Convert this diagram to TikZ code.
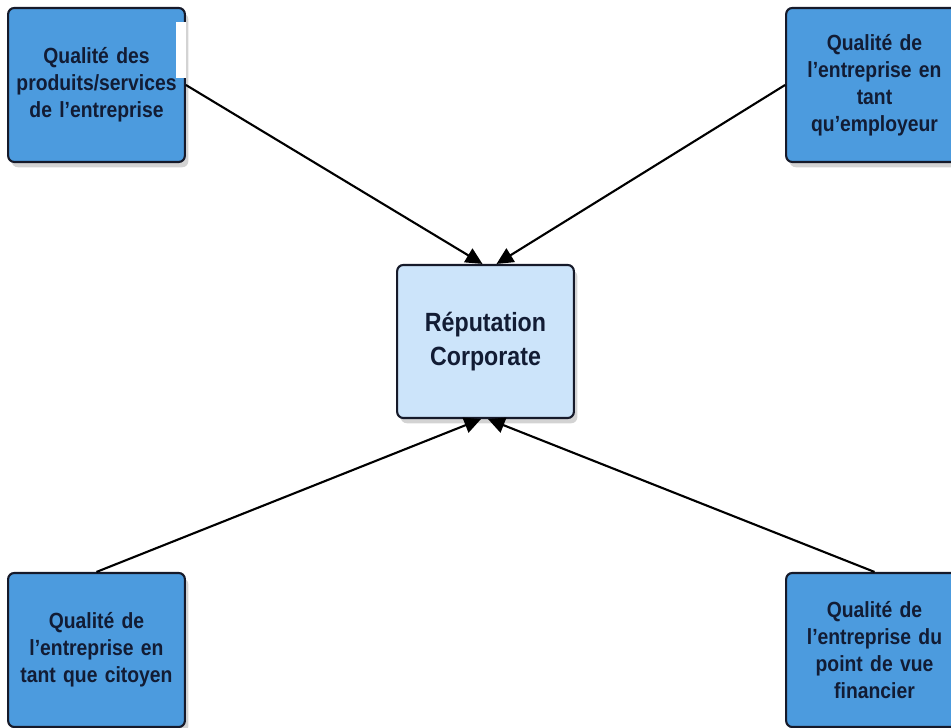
\documentclass[tikz,border=0pt]{standalone}
\usepackage{fontspec}
\setmainfont[FakeStretch=0.88]{Liberation Sans}
\usepackage{tikz}
\usetikzlibrary{positioning,calc}
\usetikzlibrary{arrows.meta}
\usetikzlibrary{shadows}

\definecolor{outerblue}{RGB}{76,155,222}
\definecolor{innerblue}{RGB}{204,228,250}
\definecolor{borderdark}{RGB}{22,26,42}
\definecolor{textdark}{RGB}{18,28,52}

\tikzset{
    factor/.style={draw=borderdark, line width=1.2pt, fill=outerblue, rounded corners=3.5pt,
        minimum width=3.46cm, minimum height=3.08cm, text width=3.3cm, align=center,
        font=\bfseries\fontsize{12.5}{15.3}\selectfont, text=textdark,
        drop shadow={shadow xshift=2pt, shadow yshift=-3pt, opacity=0.35}},
    core/.style={factor, fill=innerblue, minimum height=3.06cm,
        font=\bfseries\fontsize{15}{19.3}\selectfont},
    link/.style={line width=1.2pt, -{Triangle[length=9.5pt,width=9pt]}}
}

\begin{document}
\begin{tikzpicture}
    % Frame of the picture
    \useasboundingbox (0,0) rectangle (19.02,14.56);

    % The central box
    \node[core] (rep) at (9.71,7.73) {R\'eputation\\Corporate};

    % The four boxes around it
    \node[factor] (produits) at (1.93,12.86) {Qualit\'e des\\produits/services\\de l'entreprise};
    \node[factor] (employeur) at (17.49,12.86) {Qualit\'e de\\l'entreprise en\\tant\\qu'employeur};
    \node[factor] (citoyen) at (1.93,1.56) {Qualit\'e de\\l'entreprise en\\tant que citoyen};
    \node[factor] (financier) at (17.49,1.56) {Qualit\'e de\\l'entreprise du\\point de vue\\financier};

    % Small white patch over the first box
    \fill[white] (3.52,13.0) rectangle (3.72,14.12);

    % Arrows towards the centre
    \draw[link] (produits.east) -- ([xshift=-0.06cm]rep.north);
    \draw[link] (employeur.west) -- ([xshift=0.22cm]rep.north);
    \draw[link] (citoyen.north) -- ([xshift=-0.09cm]rep.south);
    \draw[link] (financier.north) -- ([xshift=0.05cm]rep.south);

\end{tikzpicture}
\end{document}
